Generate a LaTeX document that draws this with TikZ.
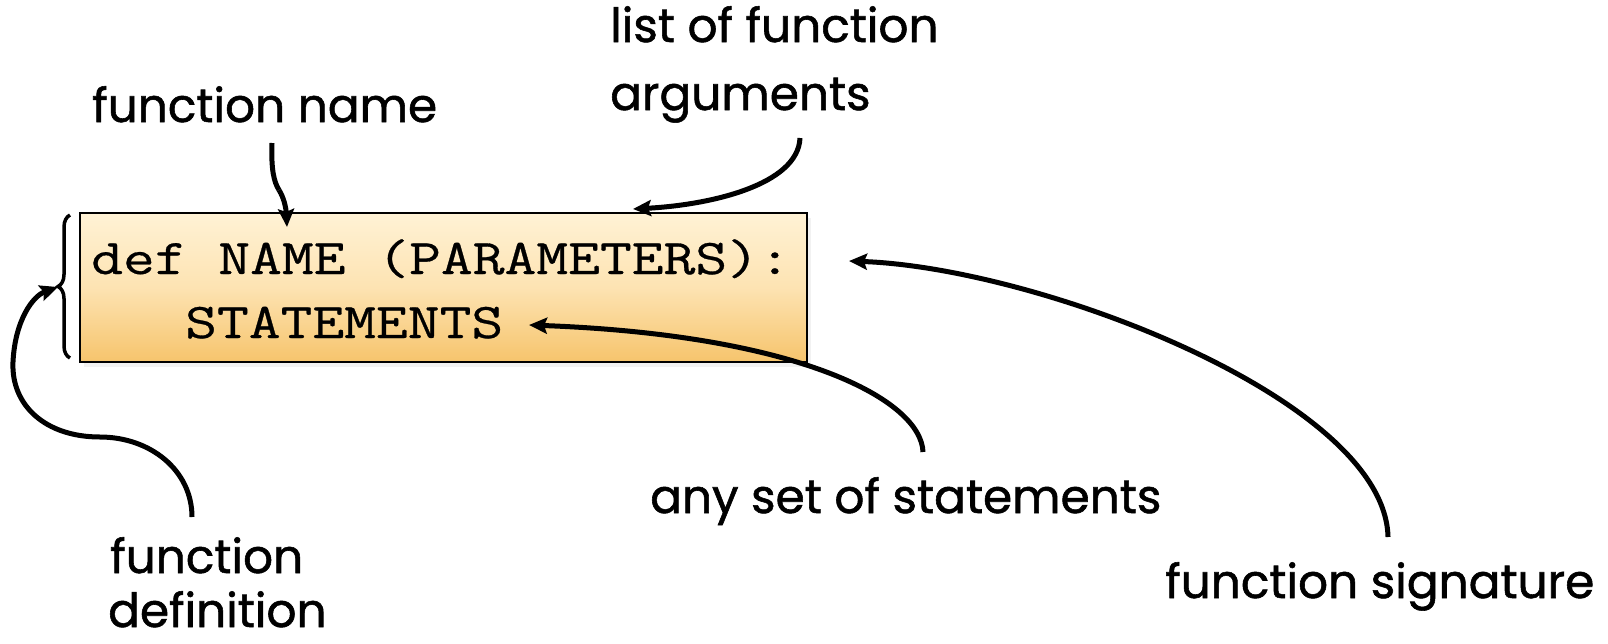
\documentclass[tikz,border=0pt]{standalone}
\usepackage{fontspec}
\setmainfont{Poppins}[FakeBold=1.2]
\newfontfamily\codefont{Latin Modern Mono}[FakeStretch=1.235,FakeBold=0.6]
\usetikzlibrary{arrows.meta,decorations.pathreplacing,shadows}
\definecolor{boxtop}{HTML}{FFF2D5}
\definecolor{boxmid}{HTML}{FDE3B2}
\definecolor{boxbot}{HTML}{F6C46C}
\begin{document}
\begin{tikzpicture}[x=1pt,y=-1pt,
  lbl/.style={anchor=base west,inner sep=0pt,font=\fontsize{47}{56}\selectfont},
  code/.style={anchor=base west,inner sep=0pt,font=\codefont\fontsize{50}{64}\selectfont},
  conn/.style={line width=5pt,-{Stealth[length=18pt,width=16pt,inset=3pt]}},
  plain/.style={line width=5pt}]
\useasboundingbox (0,0) rectangle (1608,643);
% box
\node[draw=black,line width=2pt,minimum width=727pt,minimum height=149pt,inner sep=0pt,
      top color=boxtop,bottom color=boxbot,middle color=boxmid,
      drop shadow={opacity=0.10,shadow xshift=4pt,shadow yshift=-5pt}] (box) at (443.5,287.5) {};
\node[code] (l1) at (91,274) {def NAME (PARAMETERS):};
\node[code] (l2) at (185,338) {STATEMENTS};
% brace
\coordinate (bb) at (70,358);
\coordinate (bt) at (70,215);
\draw[line width=3.5pt,decorate,decoration={brace,amplitude=12pt}] (bb) -- (bt);
% labels
\node[lbl] (fname) at (92,122) {function name};
\node[lbl] (args1) at (610,42) {list of function};
\node[lbl] (args2) at (610,110) {arguments};
\node[lbl] (stm) at (650,513) {any set of statements};
\node[lbl] (sig) at (1165,598) {function signature};
\node[lbl] (def1) at (110,573) {function};
\node[lbl] (def2) at (108,627) {definition};
% connector end points
\coordinate (fnS) at (272,143);
\coordinate (fnK) at (279,190);
\coordinate (fnT) at (287,227);
\coordinate (argS) at (800,138);
\coordinate (argT) at (633,209);
\coordinate (sigS) at (1388,537);
\coordinate (sigT) at (849,261);
\coordinate (stmS) at (923,452);
\coordinate (stmT) at (529,325);
\coordinate (defS) at (192,517);
\coordinate (defA) at (100,437);
\coordinate (defB) at (13,362);
\coordinate (defT) at (58,287);
% connectors
\draw[plain] (fnS) .. controls (271,170) and (274,182) .. (fnK);
\draw[conn] (fnK) .. controls (284,198) and (286,208) .. (fnT);
\draw[conn] (argS) .. controls (798,185) and (710,205) .. (argT);
\draw[conn] (sigS) .. controls (1385,400) and (1040,268) .. (sigT);
\draw[conn] (stmS) .. controls (921,400) and (800,335) .. (stmT);
\draw[plain] (defS) .. controls (192,470) and (150,437) .. (defA)
   .. controls (45,437) and (11,405) .. (defB);
\draw[conn] (defB) .. controls (15,320) and (33,296) .. (defT);
\end{tikzpicture}
\end{document}
